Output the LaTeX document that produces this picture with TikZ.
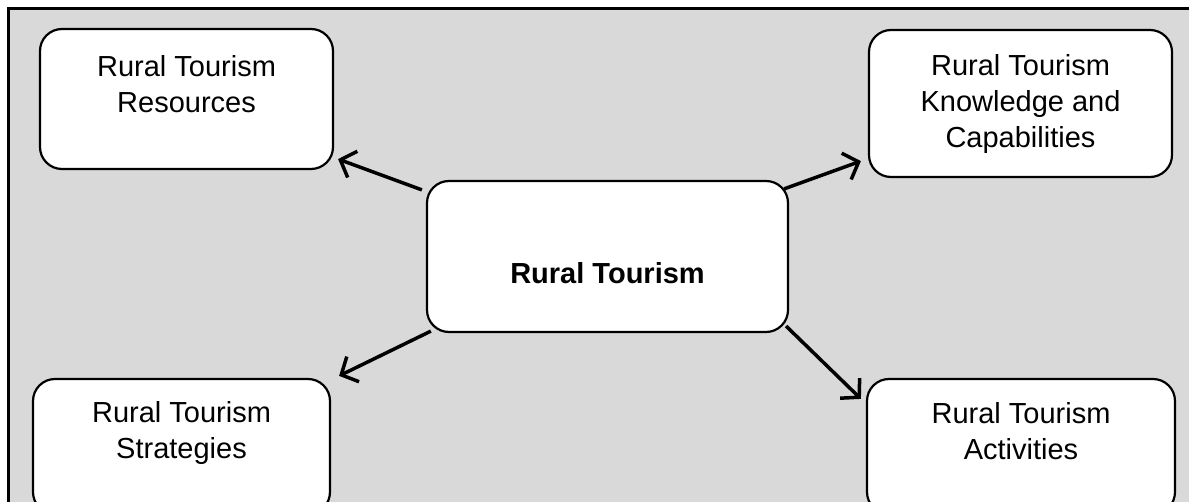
\documentclass[tikz,border=0pt]{standalone}
\usepackage{fontspec}
\setmainfont{Liberation Sans}
\usetikzlibrary{arrows.meta}
\definecolor{bggray}{HTML}{D9D9D9}
\tikzset{
  box/.style={draw=black, line width=2.2pt, fill=white, rounded corners=22pt, inner sep=0pt},
  lbl/.style={align=center, inner sep=0pt, font=\fontsize{29pt}{36pt}\selectfont},
  arr/.style={line width=3.5pt, -{Straight Barb[length=13pt,width=28pt,line width=3.5pt]}},
}
\begin{document}
\begin{tikzpicture}[x=1pt,y=-1pt]
\useasboundingbox (0,0) rectangle (1189,502);
\clip (0,0) rectangle (1189,502);
\fill[bggray] (8,9) rectangle (1195,510);
\draw[line width=3pt] (8,510) -- (8,9) -- (1195,9);
% boxes
\node[box, minimum width=361pt, minimum height=151pt] (c) at (607.5,256.5) {};
\node[box, minimum width=293pt, minimum height=140pt] (tl) at (186.5,99) {};
\node[box, minimum width=303pt, minimum height=147pt] (tr) at (1020.5,103.5) {};
\node[box, minimum width=297pt, minimum height=135pt] (bl) at (181.5,446.5) {};
\node[box, minimum width=308pt, minimum height=135pt] (br) at (1021,446.5) {};
% labels
\node[lbl, font=\fontsize{29pt}{36pt}\selectfont\bfseries] (cl) at (607.5,273) {Rural Tourism};
\node[lbl] (tll) at (186.5,84) {Rural Tourism\\Resources};
\node[lbl] (trl) at (1020.5,104) {Rural Tourism\\Knowledge and\\Capabilities};
\node[lbl] (bll) at (181.5,433.5) {Rural Tourism\\Strategies};
\node[lbl] (brl) at (1021,431.5) {Rural Tourism\\Activities};
% arrows
\draw[arr] ([shift={(-4,10)}]c.north west) -- ([shift={(4,-11)}]tl.south east);
\draw[arr] ([shift={(-5,9)}]c.north east) -- ([shift={(-7,-17)}]tr.south west);
\draw[arr] ([shift={(5,-2)}]c.south west) -- ([shift={(8,-2)}]bl.north east);
\draw[arr] ([shift={(-3,-7)}]c.south east) -- ([shift={(-5,21)}]br.north west);
\end{tikzpicture}
\end{document}
